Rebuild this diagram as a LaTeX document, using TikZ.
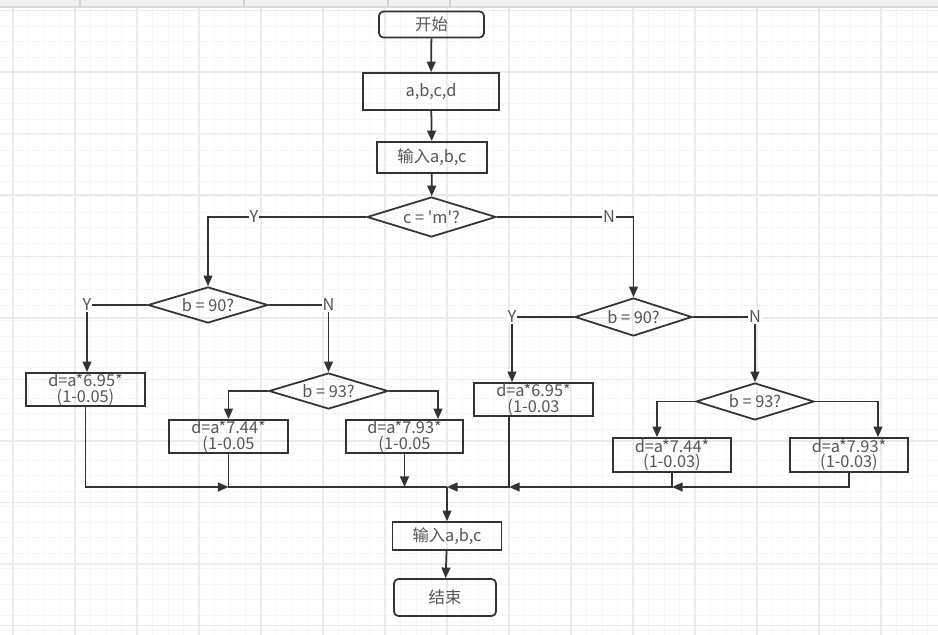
\documentclass[tikz,border=0pt]{standalone}
\usepackage{fontspec}
\setmainfont{Noto Sans CJK SC}
\usetikzlibrary{shapes.geometric,arrows.meta}
\definecolor{linec}{HTML}{333333}
\definecolor{textc}{HTML}{555555}
\tikzset{
  base/.style={draw=linec,line width=1pt,text=textc,inner sep=0pt,font=\fontsize{9.3}{8.7}\selectfont},
  startstop/.style={base,rectangle,rounded corners=2.5pt,minimum width=2.1cm,minimum height=0.52cm},
  proc/.style={base,rectangle,minimum width=2.38cm,minimum height=0.66cm,align=center},
  decide/.style={base,diamond,shape aspect=3,minimum width=2.4cm,minimum height=0.72cm},
  lbl/.style={fill=white,text=textc,inner sep=0.5pt,font=\fontsize{9.3}{9}\selectfont},
}
\begin{document}
\begin{tikzpicture}[x=0.02cm,y=-0.02cm,>={Triangle[length=6pt,width=5pt]},line width=1pt,draw=linec]
  \useasboundingbox (0,0) rectangle (938,635);
  % grid
  \fill[white] (0,0) rectangle (938,635);
  \foreach \x in {13,28.5,...,938} \draw[gray!7,line width=0.5pt] (\x,7) -- (\x,635);
  \foreach \y in {10.5,26,...,635} \draw[gray!7,line width=0.5pt] (0,\y) -- (938,\y);
  \foreach \x in {13,75,...,938} \draw[gray!16,line width=0.6pt] (\x,7) -- (\x,635);
  \foreach \y in {10.5,72,...,635} \draw[gray!16,line width=0.6pt] (0,\y) -- (938,\y);
  % top bar
  \fill[gray!12] (0,0) rectangle (938,7);
  \draw[gray!30,line width=0.8pt] (0,7) -- (938,7);
  \foreach \x in {80,244,388,450} \draw[gray!35,line width=0.6pt] (\x,0) -- (\x,7);

  % main column
  \node[startstop] (start) at (431.5,24.5) {开始};
  \node[proc,minimum width=2.72cm,minimum height=0.74cm] (init) at (431,91.5) {a,b,c,d};
  \node[proc,minimum width=2.2cm,minimum height=0.62cm] (in1) at (432,157.5) {输入a,b,c};
  \node[decide,minimum width=2.58cm,minimum height=0.8cm] (d1) at (431.5,217) {c = \textquotesingle m\textquotesingle ?};

  % left branch
  \node[decide] (d2) at (208,305) {b = 90?};
  \node[decide,minimum width=2.38cm] (d3) at (328.5,391) {b = 93?};
  \node[proc] (p1) at (85.5,389.5) {d=a*6.95*\\(1-0.05)};
  \node[proc] (p2) at (228.5,436.5) {d=a*7.44*\\(1-0.05};
  \node[proc,minimum width=2.34cm] (p3) at (404.5,436.5) {d=a*7.93*\\(1-0.05};

  % right branch
  \node[decide,minimum width=2.34cm,minimum height=0.76cm] (d4) at (633.5,317) {b = 90?};
  \node[decide,minimum width=2.36cm,minimum height=0.74cm] (d5) at (755,401.5) {b = 93?};
  \node[proc] (p4) at (533.5,399.5) {d=a*6.95*\\(1-0.03};
  \node[proc,minimum width=2.36cm,minimum height=0.68cm] (p5) at (672,455) {d=a*7.44*\\(1-0.03)};
  \node[proc,minimum width=2.36cm,minimum height=0.68cm] (p6) at (849,455) {d=a*7.93*\\(1-0.03)};

  % tail
  \node[proc,minimum width=2.18cm,minimum height=0.56cm] (in2) at (447,536) {输入a,b,c};
  \node[startstop,minimum width=2.04cm,minimum height=0.74cm] (stop) at (445,597.5) {结束};
  \coordinate (j) at (447,487);

  \draw[->] (start) -- (init);
  \draw[->] (init) -- (in1);
  \draw[->] (in1) -- (d1);
  \draw[->] (d1.west) -| node[lbl,pos=0.355] (y1) {Y} (d2.north);
  \draw[->] (d1.east) -| node[lbl,pos=0.41] (n1) {N} (d4.north);
  \draw[->] (d2.west) -| node[lbl,pos=0.5] (y2) {Y} ([xshift=0.03cm]p1.north);
  \draw[->] (d2.east) -| node[lbl,pos=0.5] (n2) {N} (d3.north);
  \draw[->] (d3.west) -| (p2.north);
  \draw[->] (d3.east) -| ([xshift=0.67cm]p3.north);
  \draw[->] (d4.west) -| node[lbl,pos=0.5] (y3) {Y} ([xshift=-0.43cm]p4.north);
  \draw[->] (d4.east) -| node[lbl,pos=0.5] (n3) {N} (d5.north);
  \draw[->] (d5.west) -| ([xshift=-0.3cm]p5.north);
  \draw[->] (d5.east) -| ([xshift=0.58cm]p6.north);

  % merge lines
  \draw[->] (p1.south) |- (p2.south |- j);
  \draw (p2.south) |- (j);
  \draw[->] (p3.south) -- (p3.south |- j);
  \draw[->] (p6.south) |- (p5.south |- j);
  \draw[->] (p5.south) |- ([xshift=-0.49cm]p4.south |- j);
  \draw[->] ([xshift=-0.49cm]p4.south) |- (j);
  \draw[->] (j) -- (in2.north);
  \draw[->] (in2) -- (stop);
\end{tikzpicture}
\end{document}
